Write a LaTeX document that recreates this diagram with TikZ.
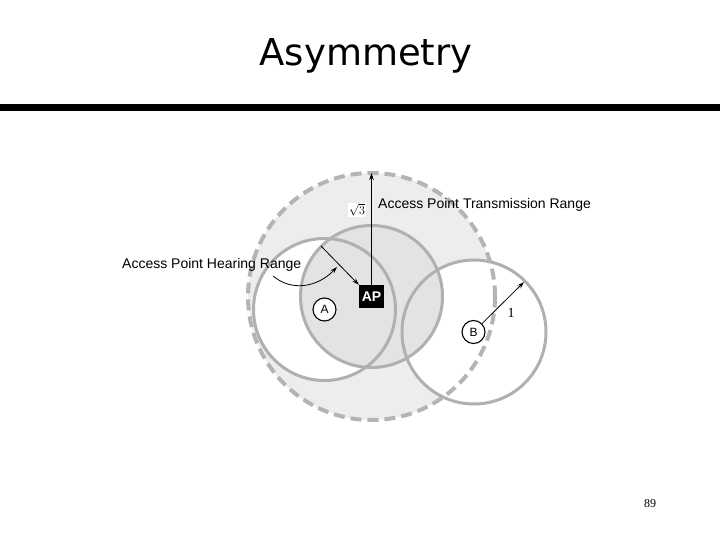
\documentclass[tikz,border=0pt]{standalone}
\usepackage{fontspec}
\setmainfont{Liberation Sans}
\newfontfamily\titlefont{DejaVu Sans}
\newfontfamily\serfont{Liberation Serif}
\usetikzlibrary{arrows.meta}
\definecolor{rangegray}{HTML}{B0B0B0}
\definecolor{dashgray}{HTML}{B4B4B4}
\definecolor{outerfill}{HTML}{EDEDED}
\definecolor{apfill}{HTML}{E3E3E3}
\begin{document}
\begin{tikzpicture}[x=1pt,y=-1pt,
  rangeline/.style={draw=rangegray, line width=3pt},
  txrange/.style={draw=dashgray, line width=4pt, dash pattern=on 11pt off 6pt},
  arr/.style={draw=black, line width=0.8pt, -{Stealth[length=7pt,width=4.5pt]}},
  station/.style={circle, draw=black, line width=1.1pt, fill=white, minimum size=23pt, inner sep=0pt, font=\fontsize{12}{13}\selectfont},
  apbox/.style={rectangle, fill=black, text=white, minimum width=25pt, minimum height=23pt, inner sep=0pt, font=\fontsize{14}{15}\selectfont\bfseries},
  lbl/.style={inner sep=0pt, font=\fontsize{14}{16}\selectfont}
]
\useasboundingbox (0,0) rectangle (720,540);

% title and rule
\node[inner sep=0pt, anchor=base, font=\titlefont\fontsize{37}{40}\selectfont] (title) at (366,66) {Asymmetry};
\fill[black] (0,104.5) rectangle (720,111);

% ranges
\fill[outerfill] (371.5,296.5) circle[radius=123.5pt];
\fill[white] (324.5,309.5) circle[radius=71pt];
\fill[white] (474,332) circle[radius=72pt];
\fill[apfill] (371.5,296.5) circle[radius=71pt];
\draw[rangeline] (324.5,309.5) circle[radius=71pt];
\draw[rangeline] (474,332) circle[radius=72pt];
\draw[rangeline] (371.5,296.5) circle[radius=71pt];
\draw[txrange] (371.5,296.5) circle[radius=123.5pt];

% nodes
\node[apbox] (AP) at (371.5,296.5) {AP};
\node[station] (A) at (324.5,309.5) {A};
\node[station] (B) at (473.5,332) {B};

% transmission range arrow
\coordinate (txtop) at (371.5,173);
\draw[arr] (AP.north) -- (txtop);
\node[inner sep=0.6pt, fill=white, font=\fontsize{13}{14}\selectfont] (sqrtlbl) at (357,210) {$\sqrt{3}$};
\node[lbl, anchor=base west] (txlbl) at (378,208) {Access Point Transmission Range};

% hearing range arrow
\coordinate (hearpt) at (321,246);
\draw[arr] (hearpt) -- (AP.north west);
\node[lbl, anchor=base west] (hearlbl) at (122,268) {Access Point Hearing Range};
\coordinate (cstart) at (273,276);
\coordinate (cend) at (337,267);
\draw[arr] (cstart) .. controls (292,292) and (318,287) .. (cend);

% B range arrow
\coordinate (bedge) at (524,282);
\draw[arr] (B) -- (bedge);
\node[inner sep=0pt, font=\serfont\fontsize{14}{16}\selectfont] (one) at (511,313) {1};

% page number
\node[inner sep=0pt, font=\serfont\fontsize{12}{14}\selectfont] (pagenum) at (650,504) {89};
\end{tikzpicture}
\end{document}
